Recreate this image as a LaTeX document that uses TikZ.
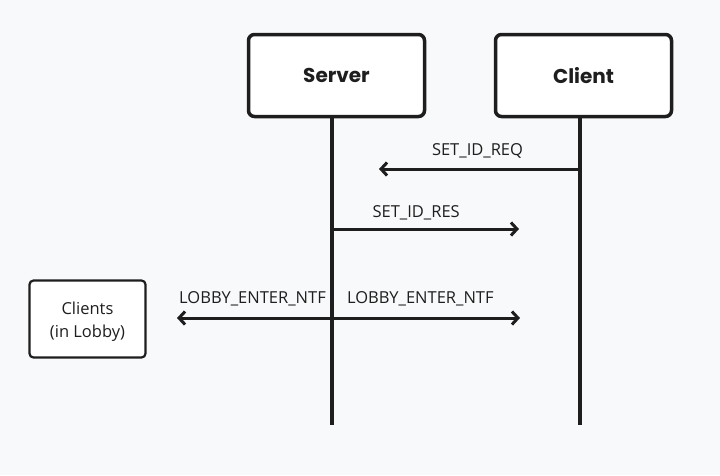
\documentclass[tikz,border=0pt]{standalone}
\usepackage{fontspec}
\setmainfont{Open Sans}
\newfontfamily\headfont{Poppins}
\usetikzlibrary{arrows.meta}
\definecolor{bgc}{HTML}{F8F9FA}
\definecolor{ink}{HTML}{1E1E1E}
\begin{document}
\begin{tikzpicture}[x=1pt,y=-1pt,
  actor/.style={draw=ink,line width=3.5pt,rounded corners=6pt,fill=white,minimum width=176pt,minimum height=82pt,font=\headfont\bfseries\fontsize{20}{22}\selectfont,text=ink},
  side/.style={draw=ink,line width=2.2pt,rounded corners=4pt,fill=white,minimum width=116pt,minimum height=77pt},
  sidetext/.style={align=center,font=\fontsize{16.5}{23}\selectfont,text=ink},
  life/.style={draw=ink,line width=3.5pt},
  msg/.style={draw=ink,line width=3pt,line cap=round,-{Straight Barb[length=6pt,width=13pt,line width=3pt]}},
  lbl/.style={font=\fontsize{16.5}{18}\selectfont,text=ink}]
\fill[bgc] (0,0) rectangle (720,475);
\useasboundingbox (0,0) rectangle (720,475);
\node[actor] (server) at (336.5,75.5) {Server};
\node[actor] (client) at (583.5,75.5) {Client};
\coordinate (sb) at (332,425);
\coordinate (cb) at (580,425);
\draw[life] (332,118) -- (sb);
\draw[life] (580,118) -- (cb);
\node[side] (lobby) at (87.5,319) {};
\node[sidetext] (lobbytext) at (87.5,321.5) {Clients\\(in Lobby)};
\coordinate (c1) at (580,169);
\coordinate (s1) at (379,169);
\draw[msg] (c1) -- (s1) node[lbl,midway,above=6pt,xshift=-2pt] {SET\_ID\_REQ};
\coordinate (s2) at (332,229);
\coordinate (c2) at (519,229);
\draw[msg] (s2) -- (c2) node[lbl,pos=0.45,above=4pt] {SET\_ID\_RES};
\coordinate (s3) at (332,318);
\coordinate (l3) at (177,318);
\coordinate (c3) at (520,318);
\draw[msg] (s3) -- (l3) node[lbl,midway,above=7pt,xshift=-2pt] {LOBBY\_ENTER\_NTF};
\draw[msg] (s3) -- (c3) node[lbl,pos=0.47,above=7pt] {LOBBY\_ENTER\_NTF};
\end{tikzpicture}
\end{document}
